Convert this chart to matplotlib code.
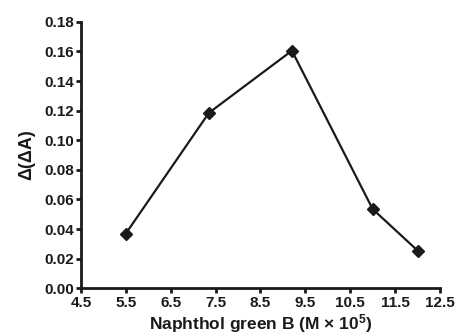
import matplotlib
matplotlib.use("Agg")
import matplotlib.pyplot as plt

x_vals = [5.5, 7.35, 9.2, 11.0, 12.0]
y_vals = [0.037, 0.1185, 0.1605, 0.0535, 0.0255]
x_ticks = [4.5, 5.5, 6.5, 7.5, 8.5, 9.5, 10.5, 11.5, 12.5]
y_ticks = [0.00, 0.02, 0.04, 0.06, 0.08, 0.10, 0.12, 0.14, 0.16, 0.18]

plt.rcParams['font.family'] = ['Liberation Sans', 'DejaVu Sans']
plt.rcParams['font.weight'] = 'bold'
plt.rcParams['mathtext.fontset'] = 'custom'
plt.rcParams['mathtext.rm'] = 'Liberation Sans:bold'
plt.rcParams['mathtext.bf'] = 'Liberation Sans:bold'
plt.rcParams['mathtext.default'] = 'bf'

fig = plt.figure(figsize=(4.55, 3.36), dpi=100)
ax = fig.add_axes([0.178, 0.142, 0.789, 0.793])

ax.plot(x_vals, y_vals, color='#1a1a1a', linewidth=1.6, marker='D', markersize=6,
        markerfacecolor='#1a1a1a', markeredgecolor='#1a1a1a', clip_on=False)

ax.set_xlim(4.5, 12.5)
ax.set_ylim(0, 0.18)
ax.set_xticks(x_ticks)
ax.set_xticklabels([f"{v:.1f}" for v in x_ticks])
ax.set_yticks(y_ticks)
ax.set_yticklabels([f"{v:.2f}" for v in y_ticks])

for s in ['top', 'right']:
    ax.spines[s].set_visible(False)
for s in ['left', 'bottom']:
    ax.spines[s].set_linewidth(2)
    ax.spines[s].set_color('#1a1a1a')

ax.tick_params(axis='both', direction='out', length=3.8, width=2, color='#1a1a1a',
               labelsize=11, pad=1.5, labelcolor='#1a1a1a')
for lab in ax.get_xticklabels() + ax.get_yticklabels():
    lab.set_fontweight('bold')

ax.set_xlabel('Naphthol green B (M × 10$^{5}$)', fontsize=12.5, fontweight='bold',
              color='#1a1a1a', labelpad=2)
ax.set_ylabel('Δ(ΔA)', fontsize=13, fontweight='bold', color='#1a1a1a', labelpad=6)

fig.savefig('out.png', dpi=100)
